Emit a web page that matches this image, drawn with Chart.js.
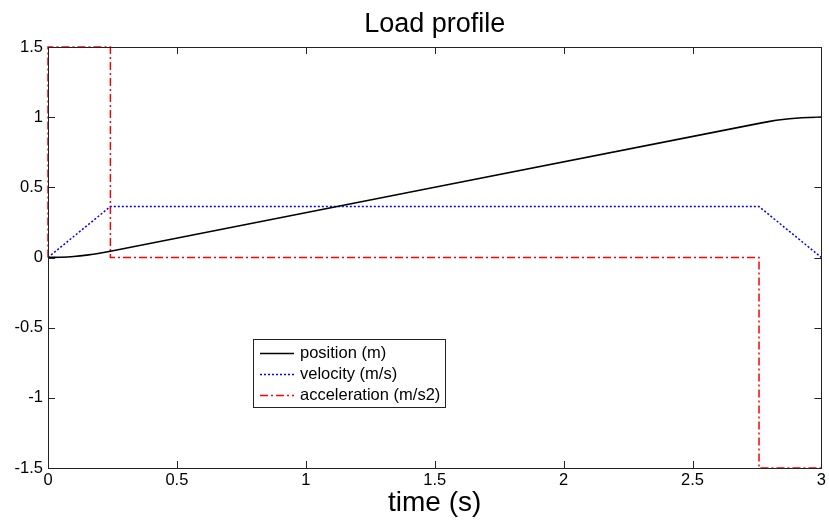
<!DOCTYPE html>
<html>
<head>
<meta charset="utf-8">
<script src="https://cdn.jsdelivr.net/npm/chart.js@4/dist/chart.umd.min.js"></script>
<style>
  html, body { margin: 0; padding: 0; background: #fff; }
  #wrap { width: 829px; height: 520px; }
</style>
</head>
<body>
<div id="wrap"><canvas id="loadProfile" width="829" height="520"></canvas></div>
<script>
// position (m)
const posTime  = [0, 0.05, 0.1, 0.15, 0.2, 0.242, 2.758, 2.8, 2.85, 2.9, 2.95, 3];
const posValue = [0, 0.002, 0.0075, 0.017, 0.03, 0.044, 0.956, 0.97, 0.983, 0.9925, 0.998, 1];

// velocity (m/s)
const velTime  = [0, 0.242, 2.758, 3];
const velValue = [0, 0.363, 0.363, 0];

// acceleration (m/s2)
const accTime  = [0, 0, 0.242, 0.242, 2.758, 2.758, 3];
const accValue = [0, 1.5, 1.5, 0, 0, -1.5, -1.5];

const xTicks = [0, 0.5, 1, 1.5, 2, 2.5, 3];
const yTicks = [-1.5, -1, -0.5, 0, 0.5, 1, 1.5];

const FONT = '"Liberation Sans", Arial, Helvetica, sans-serif';

function points(xs, ys) {
    return xs.map((x, i) => ({ x: x, y: ys[i] }));
}

// title centred over the axes rather than the whole canvas
const axesTitle = {
    id: 'axesTitle',
    afterDraw(chart, args, opts) {
        const { ctx, chartArea: a } = chart;
        ctx.save();
        ctx.font = opts.size + 'px ' + FONT;
        ctx.fillStyle = '#000';
        ctx.textAlign = 'center';
        ctx.textBaseline = 'alphabetic';
        ctx.fillText(opts.text, (a.left + a.right) / 2, opts.baseline);
        ctx.restore();
    }
};

// box round the plot with inward ticks on all four sides
const boxAxes = {
    id: 'boxAxes',
    afterDatasetsDraw(chart) {
        const { ctx, chartArea: a, scales } = chart;
        const len = 7;
        ctx.save();
        ctx.strokeStyle = '#222';
        ctx.lineWidth = 1;
        ctx.beginPath();
        scales.x.ticks.forEach(t => {
            const px = Math.round(scales.x.getPixelForValue(t.value)) + 0.5;
            ctx.moveTo(px, a.bottom); ctx.lineTo(px, a.bottom - len);
            ctx.moveTo(px, a.top); ctx.lineTo(px, a.top + len);
        });
        scales.y.ticks.forEach(t => {
            const py = Math.round(scales.y.getPixelForValue(t.value)) + 0.5;
            ctx.moveTo(a.left, py); ctx.lineTo(a.left + len, py);
            ctx.moveTo(a.right, py); ctx.lineTo(a.right - len, py);
        });
        ctx.stroke();
        ctx.strokeRect(Math.round(a.left) + 0.5, Math.round(a.top) + 0.5,
                       Math.round(a.right - a.left), Math.round(a.bottom - a.top));
        ctx.restore();
    }
};

// legend box inside the axes
const boxLegend = {
    id: 'boxLegend',
    afterDraw(chart, args, opts) {
        const ctx = chart.ctx;
        const x = opts.left, y = opts.top, w = opts.width, h = opts.height;
        ctx.save();
        ctx.fillStyle = '#fff';
        ctx.fillRect(x, y, w, h);
        ctx.strokeStyle = '#222';
        ctx.lineWidth = 1;
        ctx.strokeRect(x + 0.5, y + 0.5, w, h);
        ctx.font = '16.5px ' + FONT;
        ctx.textBaseline = 'middle';
        ctx.fillStyle = '#000';
        chart.data.datasets.forEach((ds, i) => {
            const ry = Math.round(y + opts.rowStart + i * opts.rowStep) + 0.5;
            ctx.save();
            ctx.strokeStyle = ds.borderColor;
            ctx.lineWidth = ds.borderWidth;
            ctx.setLineDash(ds.borderDash || []);
            ctx.beginPath();
            ctx.moveTo(x + 7, ry);
            ctx.lineTo(x + 41, ry);
            ctx.stroke();
            ctx.restore();
            ctx.fillText(ds.label, x + 47, ry);
        });
        ctx.restore();
    }
};

new Chart(document.getElementById('loadProfile'), {
    type: 'line',
    data: {
        datasets: [
            {
                label: 'position (m)',
                data: points(posTime, posValue),
                borderColor: '#000000',
                borderWidth: 1.6,
                cubicInterpolationMode: 'monotone',
                pointRadius: 0,
                clip: 3
            },
            {
                label: 'velocity (m/s)',
                data: points(velTime, velValue),
                borderColor: '#0000ff',
                borderWidth: 1.5,
                borderDash: [2, 2],
                pointRadius: 0,
                clip: 3
            },
            {
                label: 'acceleration (m/s2)',
                data: points(accTime, accValue),
                borderColor: '#ff0000',
                borderWidth: 1.5,
                borderDash: [8, 3, 2, 3],
                pointRadius: 0,
                clip: 3
            }
        ]
    },
    options: {
        responsive: false,
        animation: false,
        layout: { padding: { left: 0, right: 5, top: 47, bottom: 0 } },
        plugins: {
            legend: { display: false },
            tooltip: { enabled: false },
            title: { display: false },
            axesTitle: { text: 'Load profile', size: 27, baseline: 32 },
            boxLegend: { left: 253, top: 339, width: 192, height: 68, rowStart: 14, rowStep: 21 }
        },
        scales: {
            x: {
                type: 'linear',
                min: 0,
                max: 3,
                afterBuildTicks: s => { s.ticks = xTicks.map(v => ({ value: v })); },
                afterFit: s => { s.height = 52; },
                grid: { display: false, drawTicks: false },
                border: { display: false },
                ticks: {
                    color: '#000',
                    padding: 3,
                    maxRotation: 0,
                    font: { family: FONT, size: 16.5 },
                    callback: v => String(v)
                },
                title: {
                    display: true,
                    text: 'time (s)',
                    color: '#000',
                    font: { family: FONT, size: 28 },
                    padding: { top: 0, bottom: 0 }
                }
            },
            y: {
                type: 'linear',
                min: -1.5,
                max: 1.5,
                afterBuildTicks: s => { s.ticks = yTicks.map(v => ({ value: v })); },
                afterFit: s => { s.width = 48; },
                grid: { display: false, drawTicks: false },
                border: { display: false },
                ticks: {
                    color: '#000',
                    padding: 5,
                    font: { family: FONT, size: 16.5 },
                    callback: v => String(v)
                }
            }
        }
    },
    plugins: [boxAxes, boxLegend, axesTitle]
});
</script>
</body>
</html>
